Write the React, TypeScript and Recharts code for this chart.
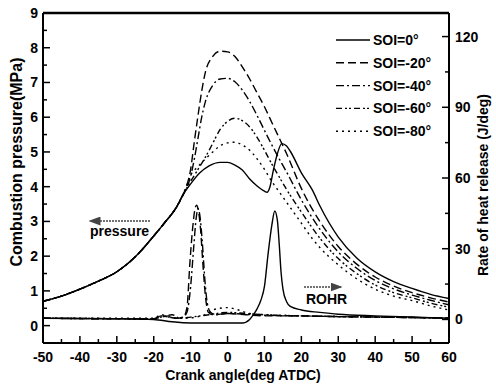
import React from 'react';
import { ComposedChart, Line, XAxis, YAxis, ReferenceLine } from 'recharts';

// crank angle ticks (deg ATDC), pressure ticks (MPa), ROHR ticks (J/deg)
const xTicks = [-50, -45, -40, -35, -30, -25, -20, -15, -10, -5, 0, 5, 10, 15, 20, 25, 30, 35, 40, 45, 50, 55, 60];
const pTicks = [0, 0.5, 1, 1.5, 2, 2.5, 3, 3.5, 4, 4.5, 5, 5.5, 6, 6.5, 7, 7.5, 8, 8.5, 9];
const rTicks = [0, 15, 30, 45, 60, 75, 90, 105, 120];

// common compression part of the pressure trace
const compX = [-50, -45, -40, -35, -30, -25, -20, -17, -14, -12];
const compP = [0.7, 0.85, 1.05, 1.28, 1.55, 1.98, 2.58, 2.97, 3.38, 3.78];

// pressure after -12 deg, per SOI
const p0X = [-10, -7.5, -5, -2, 0, 2, 4, 6, 8, 10, 10.7, 11.5, 12.4, 13.5, 14.7, 16, 17, 20, 23, 25, 30, 35, 40, 45, 50, 55, 60];
const p0Y = [4.08, 4.4, 4.6, 4.7, 4.7, 4.62, 4.48, 4.22, 4.02, 3.87, 3.84, 4.0, 4.47, 4.95, 5.24, 5.17, 5.02, 4.4, 3.9, 3.45, 2.55, 1.95, 1.55, 1.27, 1.07, 0.9, 0.78];

const p20X = [-11, -10, -9, -8, -7, -6, -4, -2, 0, 2, 4, 6, 8, 10, 12, 14, 16, 20, 25, 30, 35, 40, 45, 50, 55, 60];
const p20Y = [4.05, 4.5, 5.3, 6.05, 6.75, 7.3, 7.75, 7.9, 7.88, 7.75, 7.45, 7.1, 6.7, 6.3, 5.85, 5.4, 4.95, 3.95, 3.0, 2.28, 1.77, 1.4, 1.14, 0.95, 0.8, 0.68];

const p40X = [-11, -10, -9, -8, -7, -6, -4, -2, 0, 2, 4, 6, 8, 10, 12, 14, 16, 20, 25, 30, 35, 40, 45, 50, 55, 60];
const p40Y = [3.98, 4.3, 4.8, 5.4, 6.0, 6.45, 6.92, 7.1, 7.12, 7.02, 6.78, 6.45, 6.05, 5.62, 5.2, 4.8, 4.42, 3.62, 2.78, 2.12, 1.65, 1.3, 1.06, 0.88, 0.73, 0.6];

const p60X = [-10, -8, -6, -4, -2, 0, 2, 4, 6, 8, 10, 12, 14, 16, 20, 25, 30, 35, 40, 45, 50, 55, 60];
const p60Y = [4.15, 4.5, 4.85, 5.25, 5.65, 5.88, 5.97, 5.9, 5.72, 5.42, 5.05, 4.65, 4.28, 3.92, 3.27, 2.52, 1.93, 1.5, 1.17, 0.95, 0.8, 0.65, 0.53];

const p80X = [-10, -8, -6, -4, -2, 0, 2, 4, 6, 8, 10, 12, 14, 16, 20, 23, 25, 30, 35, 40, 45, 50, 55, 60];
const p80Y = [4.33, 4.58, 4.8, 5.0, 5.18, 5.26, 5.28, 5.2, 5.05, 4.8, 4.5, 4.15, 3.85, 3.55, 2.95, 2.5, 2.25, 1.75, 1.35, 1.05, 0.85, 0.72, 0.57, 0.45];

// rate of heat release
const r0X = [-50, -30, -20, -15, -10, -5, 0, 4, 6, 7, 8, 9, 10, 11, 12, 12.8, 13.5, 14, 14.5, 15, 16, 17, 20, 25, 30, 40, 50, 60];
const r0Y = [0.5, 0.3, 0, -1, -1.5, -1.5, -1.5, -1.5, 0, 2, 4.5, 8, 14, 28, 40, 46, 42, 32, 20, 13, 7.5, 5.5, 4, 3, 2.2, 1.5, 1, 0.5];

const r20X = [-50, -20, -18, -16, -14, -12, -11, -10.2, -9.5, -8.8, -8.4, -8, -7.3, -6.7, -6, -5.2, -4, 0, 5, 10, 20, 30, 40, 50, 60];
const r20Y = [0.5, 0.2, 1, 1.5, 0.5, 1, 5, 24, 38, 47, 48.5, 47, 38, 24, 10, 3, 2, 2.5, 2, 1.5, 1.5, 1.2, 1, 0.8, 0.5];

const r40X = [-50, -20, -18, -16, -14, -12, -11, -10, -9.2, -8.5, -8, -7.5, -6.8, -6.2, -5.5, -4.6, -3, 0, 5, 10, 20, 30, 40, 50, 60];
const r40Y = [0.5, 0.2, 1.5, 1, 0.5, 1, 3, 14, 30, 43, 47, 44, 32, 18, 7, 3, 2, 2.5, 2.2, 1.8, 1.5, 1.2, 1, 0.8, 0.5];

const r60X = [-50, -20, -17, -15, -13, -10, -5, 0, 5, 10, 20, 30, 40, 50, 60];
const r60Y = [0.5, 0.3, 1.5, 2, 0.5, 1, 2, 3, 2.5, 2, 1.5, 1.2, 1, 0.8, 0.5];

const r80X = [-50, -20, -18, -16, -12, -6, -3, 0, 3, 6, 10, 20, 30, 40, 50, 60];
const r80Y = [0.5, 0.5, 2, 1, 0.5, 2, 4.5, 5, 4, 2.5, 2, 1.5, 1.2, 1, 0.8, 0.5];

const soiLabels = ['SOI=0°', 'SOI=-20°', 'SOI=-40°', 'SOI=-60°', 'SOI=-80°'];
const dashes = ['', '8 4', '8 3 2 3', '6 3 2 2 2 3', '2 4'];

const zip = (xs: number[], ys: number[]) => xs.map((x, i) => ({ x, y: ys[i] }));
const withComp = (xs: number[], ys: number[]) => zip(compX, compP).concat(zip(xs, ys));

const pressureSeries = [
  withComp(p0X, p0Y),
  withComp(p20X, p20Y),
  withComp(p40X, p40Y),
  withComp(p60X, p60Y),
  withComp(p80X, p80Y),
];
const rohrSeries = [zip(r0X, r0Y), zip(r20X, r20Y), zip(r40X, r40Y), zip(r60X, r60Y), zip(r80X, r80Y)];

const FONT = '"Liberation Sans Narrow", "Liberation Sans", Arial, sans-serif';

const XTick = (props: any) => {
  const { x, y, payload } = props;
  const major = payload.value % 10 === 0;
  return (
    <g>
      <line x1={x} x2={x} y1={y} y2={y - (major ? 7 : 4)} stroke="#000" strokeWidth={1.5} />
      {major && (
        <text x={x} y={y + 19} textAnchor="middle" fontFamily={FONT} fontWeight="bold" fontSize={14} fill="#000">
          {payload.value}
        </text>
      )}
    </g>
  );
};

const LeftTick = (props: any) => {
  const { x, y, payload } = props;
  const major = Number.isInteger(payload.value);
  return (
    <g>
      <line x1={x} x2={x + (major ? 7 : 4)} y1={y} y2={y} stroke="#000" strokeWidth={1.5} />
      {major && (
        <text x={x - 5} y={y + 5} textAnchor="end" fontFamily={FONT} fontWeight="bold" fontSize={14} fill="#000">
          {payload.value}
        </text>
      )}
    </g>
  );
};

const RightTick = (props: any) => {
  const { x, y, payload } = props;
  const major = payload.value % 30 === 0;
  return (
    <g>
      <line x1={x} x2={x - (major ? 7 : 4)} y1={y} y2={y} stroke="#000" strokeWidth={1.5} />
      {major && (
        <text x={x + 6} y={y + 5} textAnchor="start" fontFamily={FONT} fontWeight="bold" fontSize={14} fill="#000">
          {payload.value}
        </text>
      )}
    </g>
  );
};

export default function App() {
  return (
    <div style={{ position: 'absolute', left: 0, top: 0, width: 496, height: 385, background: '#fff' }}>
      <ComposedChart width={496} height={385} margin={{ top: 13, right: 0, bottom: 0, left: 0 }}>
        <XAxis
          type="number"
          dataKey="x"
          domain={[-50, 60]}
          ticks={xTicks}
          interval={0}
          height={42}
          tickSize={0}
          tickMargin={0}
          tick={<XTick />}
          axisLine={{ stroke: '#000', strokeWidth: 2 }}
          allowDataOverflow
        />
        <YAxis
          yAxisId="p"
          domain={[-0.5, 9]}
          ticks={pTicks}
          interval={0}
          width={43}
          tickSize={0}
          tickMargin={0}
          tick={<LeftTick />}
          axisLine={{ stroke: '#000', strokeWidth: 2 }}
          allowDataOverflow
        />
        <YAxis
          yAxisId="r"
          orientation="right"
          domain={[-10, 130]}
          ticks={rTicks}
          interval={0}
          width={47}
          tickSize={0}
          tickMargin={0}
          tick={<RightTick />}
          axisLine={{ stroke: '#000', strokeWidth: 2 }}
          allowDataOverflow
        />
        <ReferenceLine yAxisId="p" y={9} stroke="#000" strokeWidth={2.5} />
        {pressureSeries.map((d, i) => (
          <Line
            key={`p-${i}`}
            yAxisId="p"
            data={d}
            dataKey="y"
            type="monotone"
            stroke="#000"
            strokeWidth={1.4}
            strokeDasharray={dashes[i]}
            dot={false}
            isAnimationActive={false}
          />
        ))}
        {rohrSeries.map((d, i) => (
          <Line
            key={`r-${i}`}
            yAxisId="r"
            data={d}
            dataKey="y"
            type="monotone"
            stroke="#000"
            strokeWidth={1.4}
            strokeDasharray={dashes[i]}
            dot={false}
            isAnimationActive={false}
          />
        ))}
      </ComposedChart>
      <svg width={496} height={385} style={{ position: 'absolute', left: 0, top: 0, pointerEvents: 'none' }}>
        <defs>
          <marker id="ah" markerWidth="8" markerHeight="6" refX="7" refY="3" orient="auto">
            <path d="M0,0 L8,3 L0,6 z" fill="#444" />
          </marker>
        </defs>
        {soiLabels.map((s, i) => (
          <g key={s}>
            <line x1={336} x2={370} y1={40 + i * 22.8} y2={40 + i * 22.8} stroke="#000" strokeWidth={1.4} strokeDasharray={dashes[i]} />
            <text x={373} y={45 + i * 22.8} fontFamily={FONT} fontWeight="bold" fontSize={14} fill="#000">{s}</text>
          </g>
        ))}
        <line x1={150} x2={90} y1={221} y2={221} stroke="#444" strokeWidth={1.5} strokeDasharray="2 1" markerEnd="url(#ah)" />
        <text x={90} y={236} fontFamily={FONT} fontWeight="bold" fontSize={14} fill="#000">pressure</text>
        <line x1={304} x2={341} y1={287} y2={287} stroke="#444" strokeWidth={1.5} strokeDasharray="2 1" markerEnd="url(#ah)" />
        <text x={306} y={304} fontFamily={FONT} fontWeight="bold" fontSize={14} fill="#000">ROHR</text>
        <text x={22} y={162} transform="rotate(-90 22 162)" textAnchor="middle" fontFamily={FONT} fontWeight="bold" fontSize={16} fill="#000">
          Combustion pressure(MPa)
        </text>
        <text x={488} y={185} transform="rotate(-90 488 185)" textAnchor="middle" fontFamily={FONT} fontWeight="bold" fontSize={14} fill="#000">
          Rate of heat release (J/deg)
        </text>
        <text x={243} y={380} textAnchor="middle" fontFamily={FONT} fontWeight="bold" fontSize={14} fill="#000">
          Crank angle(deg ATDC)
        </text>
      </svg>
    </div>
  );
}
